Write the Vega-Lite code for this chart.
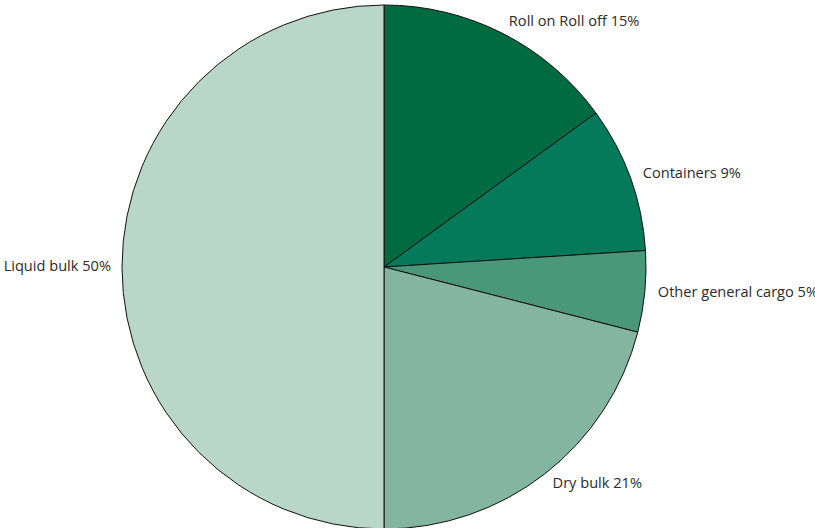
{
  "$schema": "https://vega.github.io/schema/vega-lite/v6.json",
  "width": 768,
  "height": 522,
  "autosize": "none",
  "padding": {"left": 0, "top": 6, "right": 47, "bottom": 0},
  "background": "white",
  "view": {"stroke": null},
  "data": {
    "values": [
      {"order": 1, "name": "Roll on Roll off", "value": 15, "label": "Roll on Roll off 15%"},
      {"order": 2, "name": "Containers", "value": 9, "label": "Containers 9%"},
      {"order": 3, "name": "Other general cargo", "value": 5, "label": "Other general cargo 5%"},
      {"order": 4, "name": "Dry bulk", "value": 21, "label": "Dry bulk 21%"},
      {"order": 5, "name": "Liquid bulk", "value": 50, "label": "Liquid bulk 50%"}
    ]
  },
  "encoding": {
    "theta": {"field": "value", "type": "quantitative", "stack": true},
    "order": {"field": "order", "type": "quantitative"}
  },
  "layer": [
    {
      "mark": {"type": "arc", "outerRadius": 262, "stroke": "#111111", "strokeWidth": 1},
      "encoding": {
        "color": {
          "field": "name",
          "type": "nominal",
          "scale": {
            "domain": ["Roll on Roll off", "Containers", "Other general cargo", "Dry bulk", "Liquid bulk"],
            "range": ["#006a40", "#057a5a", "#4a977a", "#84b5a0", "#b9d6cb"]
          },
          "legend": null
        }
      }
    },
    {
      "mark": {"type": "text", "radius": 275, "align": "left", "baseline": "middle", "font": "Open Sans", "fontSize": 14.6, "color": "#2b2b2b"},
      "encoding": {
        "text": {"condition": {"test": "datum.name === 'Liquid bulk'", "value": ""}, "field": "label", "type": "nominal"}
      }
    },
    {
      "mark": {"type": "text", "radius": 273, "align": "right", "baseline": "middle", "font": "Open Sans", "fontSize": 14.6, "color": "#2b2b2b"},
      "encoding": {
        "text": {"condition": {"test": "datum.name !== 'Liquid bulk'", "value": ""}, "field": "label", "type": "nominal"}
      }
    }
  ]
}
